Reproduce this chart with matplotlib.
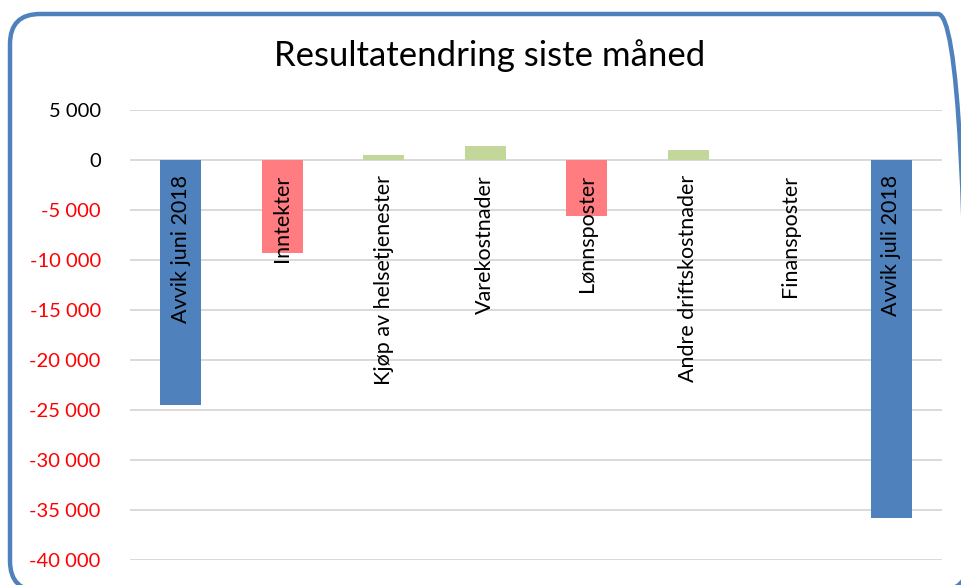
import matplotlib
matplotlib.use("Agg")
import matplotlib.pyplot as plt
from matplotlib.patches import FancyBboxPatch
from matplotlib.ticker import FuncFormatter
import matplotlib.transforms as mtransforms

categories = ["Avvik juni 2018", "Inntekter", "Kjøp av helsetjenester", "Varekostnader",
              "Lønnsposter", "Andre driftskostnader", "Finansposter", "Avvik juli 2018"]
values = [-24500, -9300, 550, 1450, -5600, 1000, 0, -35800]
kinds = ["total", "change", "change", "change", "change", "change", "change", "total"]

y_ticks = list(range(-40000, 5001, 5000))
title = "Resultatendring siste måned"

BLUE = "#4F81BD"
RED = "#FF7C80"
GREEN = "#C4D79B"

def bar_color(kind, v):
    if kind == "total":
        return BLUE
    return GREEN if v >= 0 else RED

plt.rcParams["font.family"] = ["Lato", "DejaVu Sans"]

W, H = 962, 585
fig = plt.figure(figsize=(W / 100, H / 100), dpi=100)
fig.patch.set_facecolor("white")

# rounded frame around the chart, drawn in pixel units
frame = FancyBboxPatch((10, -6), W + 6 - 10, H - 14 + 6,
                       boxstyle="round,pad=0,rounding_size=30",
                       transform=mtransforms.IdentityTransform(), facecolor="none",
                       edgecolor=BLUE, linewidth=3.2)
fig.patches.append(frame)

ax = fig.add_axes([130 / W, (H - 560) / H, (942 - 130) / W, (560 - 110) / H])
x = list(range(len(categories)))
colors = [bar_color(k, v) for k, v in zip(kinds, values)]
ax.bar(x, values, width=0.4, color=colors, zorder=3)

ax.set_xlim(-0.5, len(categories) - 0.5)
ax.set_ylim(-40000, 5000)
ax.set_yticks(y_ticks)
ax.yaxis.set_major_formatter(FuncFormatter(lambda v, p: f"{int(v):,}".replace(",", " ")))
ax.grid(axis="y", color="#D9D9D9", linewidth=1.4, zorder=0)
ax.set_xticks([])
for s in ax.spines.values():
    s.set_visible(False)
ax.tick_params(axis="y", length=0, pad=21, labelsize=14.5)
for lab, v in zip(ax.get_yticklabels(), y_ticks):
    lab.set_color("red" if v < 0 else "black")

# category names written vertically just below the zero line
offset = mtransforms.offset_copy(ax.transData, fig=fig, x=0, y=-15, units="dots")
for xi, name in zip(x, categories):
    ax.text(xi, 0, name, rotation=90, ha="center", va="top", fontsize=15.5,
            color="black", transform=offset, zorder=4)

fig.text(490 / W, (H - 56) / H, title, ha="center", va="center", fontsize=25, color="black")

fig.savefig("out.png", dpi=100)
